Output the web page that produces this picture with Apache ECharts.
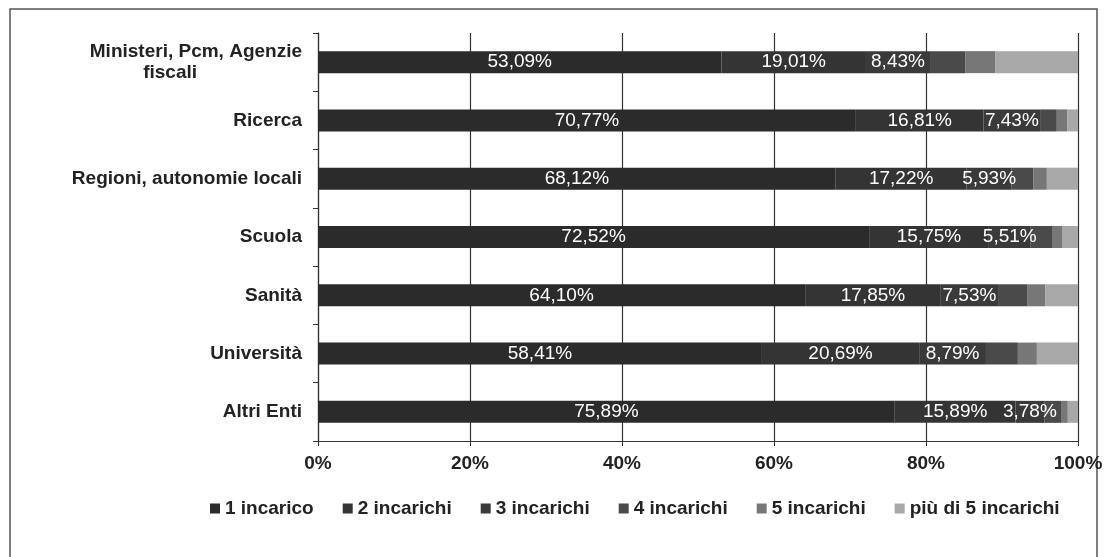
<!DOCTYPE html>
<html>
<head>
<meta charset="utf-8">
<script src="https://cdn.jsdelivr.net/npm/echarts@6/dist/echarts.min.js"></script>
<style>
html,body{margin:0;padding:0;background:#fff;}
#c{width:1107px;height:557px;}
</style>
</head>
<body>
<div id="c"></div>
<script>
var categories = ['Ministeri, Pcm, Agenzie fiscali', 'Ricerca', 'Regioni, autonomie locali', 'Scuola', 'Sanità', 'Università', 'Altri Enti'];
var seriesNames = ['1 incarico', '2 incarichi', '3 incarichi', '4 incarichi', '5 incarichi', 'più di 5 incarichi'];
var s1 = [53.09, 70.77, 68.12, 72.52, 64.10, 58.41, 75.89];
var s2 = [19.01, 16.81, 17.22, 15.75, 17.85, 20.69, 15.89];
var s3 = [8.43, 7.43, 5.93, 5.51, 7.53, 8.79, 3.78];
var s4 = [4.62, 2.20, 2.83, 2.80, 3.90, 4.20, 2.30];
var s5 = [3.95, 1.40, 1.80, 1.40, 2.30, 2.50, 0.80];
var s6 = [10.90, 1.39, 4.10, 2.02, 4.32, 5.41, 1.34];
var xTicks = [0, 20, 40, 60, 80, 100];

var colors = ['#2b2b2b', '#343434', '#3a3a3a', '#4a4a4a', '#777777', '#a8a8a8'];
var labelled = [true, true, true, false, false, false];
var allData = [s1, s2, s3, s4, s5, s6];
var FONT = '"Liberation Sans", Arial, sans-serif';

var series = allData.map(function (d, i) {
  return {
    name: seriesNames[i],
    type: 'bar',
    stack: 'total',
    barWidth: 22,
    data: d,
    itemStyle: { color: colors[i] },
    label: {
      show: labelled[i],
      position: 'inside',
      color: '#ffffff',
      fontSize: 19,
      fontFamily: FONT,
      formatter: function (p) { return p.value.toFixed(2).replace('.', ',') + '%'; }
    }
  };
});

var chart = echarts.init(document.getElementById('c'));
chart.setOption({
  animation: false,
  backgroundColor: '#ffffff',
  color: colors,
  graphic: [{
    type: 'rect',
    shape: { x: 10, y: 9, width: 1087, height: 600 },
    style: { fill: 'none', stroke: '#555555', lineWidth: 1.5 },
    silent: true
  }],
  grid: { left: 318, right: 29, top: 33, bottom: 116 },
  legend: {
    data: seriesNames,
    left: 205,
    top: 494,
    itemWidth: 10,
    itemHeight: 10,
    itemGap: 29,
    icon: 'rect',
    textStyle: { fontSize: 19, fontWeight: 'bold', color: '#222', fontFamily: FONT }
  },
  xAxis: {
    type: 'value',
    min: xTicks[0],
    max: xTicks[xTicks.length - 1],
    interval: 20,
    axisLine: { show: true, lineStyle: { color: '#333', width: 1.2 } },
    axisTick: { show: true, length: 5, lineStyle: { color: '#333' } },
    splitLine: { show: true, lineStyle: { color: '#333', width: 1.2 } },
    axisLabel: {
      margin: 13,
      fontSize: 19,
      fontWeight: 'bold',
      color: '#222',
      fontFamily: FONT,
      formatter: function (v) { return v + '%'; }
    }
  },
  yAxis: {
    type: 'category',
    inverse: true,
    data: categories,
    axisLine: { show: true, lineStyle: { color: '#333', width: 1.2 } },
    axisTick: { show: true, length: 5, lineStyle: { color: '#333' } },
    axisLabel: {
      margin: 16,
      fontSize: 19,
      fontWeight: 'bold',
      color: '#222',
      fontFamily: FONT,
      lineHeight: 21,
      formatter: function (v) {
        if (v === 'Ministeri, Pcm, Agenzie fiscali') {
          return '{a|Ministeri, Pcm, Agenzie}\n{b|fiscali}';
        }
        return v;
      },
      rich: {
        a: { fontSize: 19, fontWeight: 'bold', color: '#222', fontFamily: FONT, lineHeight: 21 },
        b: { fontSize: 19, fontWeight: 'bold', color: '#222', fontFamily: FONT, lineHeight: 21, padding: [0, 105, 0, 0] }
      }
    }
  },
  series: series
});
</script>
</body>
</html>
